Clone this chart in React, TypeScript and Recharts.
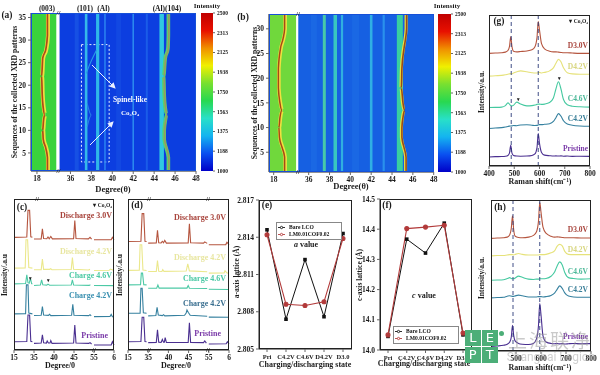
import type { ReactNode } from 'react';
import {
	Bar,
	BarChart,
	ComposedChart,
	Legend,
	Line,
	LineChart,
	ReferenceArea,
	ReferenceLine,
	XAxis,
	YAxis,
} from 'recharts';

const FONT = '"Liberation Serif", serif';

// heatmap stripes: [degree, sequence] runs (a) and (b)
type Stripe = { color: string; width: number; deg: number[]; seq: number[] };

const heatDegTicks = [18, 36, 38, 40, 42, 44, 46, 48];
const intensityTicks = [1000, 1188, 1375, 1563, 1750, 1938, 2125, 2313, 2500];
const jetStops = ['#0000c8', '#0a50f0', '#14b4f0', '#28e0c8', '#28d850', '#78e030', '#f0f000', '#f09000', '#e81000', '#c00000'];

const seqA = [1, 4, 6, 8, 10, 12, 13.5, 15, 18, 22, 26, 28, 31, 36];
const peak003A = [19.0, 19.0, 18.85, 18.6, 18.55, 18.62, 18.75, 18.6, 18.5, 18.45, 18.55, 18.85, 19.0, 19.0];
const peak104A = [45.4, 45.4, 45.2, 45.0, 45.0, 45.1, 45.25, 45.1, 45.0, 44.95, 45.1, 45.35, 45.4, 45.4];

const seqB = [1, 4, 6, 8, 10, 12, 13.5, 15, 18, 22, 26, 28, 30, 33];
const peak003B = [19.05, 19.05, 18.8, 18.55, 18.5, 18.6, 18.8, 18.6, 18.45, 18.45, 18.65, 18.9, 19.05, 19.05];
const peak104B = [45.35, 45.35, 45.15, 44.95, 44.95, 45.05, 45.2, 45.05, 44.9, 44.95, 45.15, 45.3, 45.4, 45.4];

const vertical = (deg: number, seq: number[]) => seq.map(() => deg);

const stripesA: Stripe[] = [
	{ color: '#1650e4', width: 4, deg: vertical(36.6, [1, 36]), seq: [1, 36] },
	{ color: '#1248e2', width: 5, deg: vertical(40.6, [1, 36]), seq: [1, 36] },
	{ color: '#1a5ce8', width: 2, deg: vertical(43.3, [1, 36]), seq: [1, 36] },
	{ color: '#f0e040', width: 4, deg: peak003A.map((d) => d + 0.05), seq: seqA },
	{ color: '#b04a18', width: 1.7, deg: peak003A, seq: seqA },
	{ color: '#35b8ea', width: 2.6, deg: vertical(37.5, [1, 36]), seq: [1, 36] },
	{ color: '#2fb8e8', width: 3.2, deg: vertical(38.6, [1, 36]), seq: [1, 36] },
	{ color: '#2a80f0', width: 1.6, deg: vertical(39.3, [1, 36]), seq: [1, 36] },
	{ color: '#2a88ee', width: 1.6, deg: vertical(42, [1, 36]), seq: [1, 36] },
	{ color: '#2a9ce8', width: 1.1, deg: [38.5, 37.9, 37.5], seq: [27.8, 24.9, 22.6] },
	{ color: '#2a84e8', width: 1.1, deg: [37.6, 38.0, 37.6], seq: [16, 13.4, 10.8] },
	{ color: '#30c8e0', width: 4.5, deg: vertical(44.72, [1, 36]), seq: [1, 36] },
	{ color: '#58d070', width: 3.6, deg: peak104A.map((d) => d - 0.04), seq: seqA },
	{ color: '#9a9a60', width: 1.6, deg: peak104A, seq: seqA },
];

const stripesB: Stripe[] = [
	{ color: '#1a68e4', width: 6, deg: vertical(36.5, [1, 33]), seq: [1, 33] },
	{ color: '#1a68e4', width: 7, deg: vertical(40.5, [1, 33]), seq: [1, 33] },
	{ color: '#f0e040', width: 3.6, deg: peak003B.map((d) => d + 0.05), seq: seqB },
	{ color: '#a84a14', width: 1.5, deg: peak003B, seq: seqB },
	{ color: '#48c8a8', width: 3, deg: vertical(37.5, [1, 33]), seq: [1, 33] },
	{ color: '#38c8c0', width: 3.5, deg: vertical(38.55, [1, 33]), seq: [1, 33] },
	{ color: '#30b0e0', width: 2.2, deg: vertical(39.2, [1, 33]), seq: [1, 33] },
	{ color: '#30b0e4', width: 2.6, deg: vertical(42, [1, 33]), seq: [1, 33] },
	{ color: '#2a90ec', width: 2.2, deg: vertical(43.2, [1, 33]), seq: [1, 33] },
	{ color: '#38d0a0', width: 6, deg: vertical(44.75, [1, 33]), seq: [1, 33] },
	{ color: '#e8e040', width: 3, deg: peak104B.map((d) => d - 0.05), seq: seqB },
	{ color: '#9a4a18', width: 1.6, deg: peak104B, seq: seqB },
];

// XRD traces, [two-theta, offset intensity]; null closes a segment at an axis break
type Pt = [number, number | null];

const cD30: Pt[] = [[15, 74.6], [18.2, 74.8], [18.5, 92.5], [18.9, 92.5], [19.2, 75], [19.6, 74.6], [19.7, null], [35, 73.5], [36.8, 73.6], [37.1, 80.3], [37.4, 73.8], [38.2, 73.7], [38.5, 74.8], [38.8, 73.7], [39.2, 75.2], [39.6, 73.6], [44.9, 73.7], [45.2, 85.8], [45.5, 73.8], [48.6, 73.6], [49, 74.6], [49.4, 73.4], [49.6, null], [55, 73], [59.3, 73], [59.6, 74.6], [60, 73]];
const cD42: Pt[] = [[15, 54.2], [17.8, 54.4], [18.0, 73], [18.4, 73], [18.7, 54.6], [19.6, 54.2], [19.7, null], [35, 53.1], [36.8, 53.2], [37.1, 60.2], [37.4, 53.4], [38.9, 53.4], [39.2, 53.8], [39.5, 53.1], [44.3, 53.3], [44.6, 61.3], [44.9, 53.5], [48.6, 53], [49, 53.4], [49.6, null], [55, 52.6], [58.8, 52.8], [59.1, 53.6], [60, 52.6]];
const cC46: Pt[] = [[15, 43.8], [17.9, 44], [18.2, 49.8], [18.5, 44.6], [18.8, 44.2], [19.1, 47.6], [19.4, 44], [19.6, 43.8], [19.7, null], [35, 42.7], [36.6, 43], [36.9, 46.5], [37.2, 43.2], [38.2, 43], [38.5, 43.6], [38.9, 42.9], [44.3, 43], [44.6, 46.5], [44.9, 43], [48.8, 42.8], [49.1, 43.2], [49.6, null], [55, 42.7], [60, 42.6]];
const cC42: Pt[] = [[15, 23.9], [17.9, 24], [18.1, 43.1], [18.5, 43.1], [18.7, 24.4], [19.6, 23.9], [19.7, null], [35, 22.8], [36.8, 23], [37.1, 28.8], [37.4, 23.2], [38.6, 22.9], [38.9, 23.6], [39.2, 22.8], [44.4, 23], [44.7, 30.3], [45, 23], [48.7, 22.8], [49, 23.4], [49.3, 22.6], [49.6, null], [55, 22.1], [59, 22.2], [59.3, 23.6], [59.6, 22], [60, 22]];
const cPri: Pt[] = [[15, 5.5], [18.2, 5.6], [18.5, 23.2], [18.9, 23.2], [19.2, 5.8], [19.6, 5.5], [19.7, null], [35, 4.4], [36.8, 4.6], [37.1, 10], [37.4, 4.8], [38.1, 4.6], [38.3, 6], [38.6, 4.6], [39, 4.6], [39.2, 6.2], [39.5, 4.4], [44.9, 4.6], [45.2, 16.6], [45.5, 4.6], [48.7, 4.4], [49, 4.9], [49.4, 4], [49.6, null], [55, 3.3], [59.3, 3.4], [59.6, 5.5], [60, 3.3]];

const dD30: Pt[] = [[15, 71.9], [18.2, 72], [18.5, 90.3], [18.9, 90.3], [19.2, 72], [19.6, 71.9], [19.7, null], [35, 70.8], [37.0, 70.9], [37.3, 79.2], [37.6, 71], [38.2, 70.9], [38.5, 72], [38.8, 71], [39.1, 72.6], [39.5, 70.8], [44.9, 70.9], [45.2, 83.6], [45.5, 71], [48.7, 70.8], [49, 71.6], [49.6, 70.6], [49.7, null], [55, 69.7], [59.2, 69.8], [59.5, 71.4], [60, 69.7]];
const dD42: Pt[] = [[15, 52.7], [17.8, 52.8], [18.0, 69.7], [18.4, 69.7], [18.7, 53], [19.6, 52.7], [19.7, null], [35, 52], [37.0, 52], [37.3, 59.3], [37.6, 52.2], [38.4, 52], [38.6, 53.2], [38.9, 52.1], [44.4, 52.3], [44.8, 57], [45.2, 52.4], [49.6, 51.8], [49.7, null], [55, 50.9], [58.8, 51], [59, 52.4], [59.5, 51], [60, 50.9]];
const dC46: Pt[] = [[15, 43.1], [18.1, 43.2], [18.3, 50.9], [18.6, 50.9], [18.9, 43.2], [19.6, 43.1], [19.7, null], [35, 40.9], [37.1, 41], [37.4, 43.1], [37.7, 41], [44.6, 41], [44.9, 42.7], [45.2, 40.9], [49.6, 40.7], [49.7, null], [55, 40.2], [60, 40.1]];
const dC42: Pt[] = [[15, 24.3], [18, 24.4], [18.2, 40.9], [18.5, 40.9], [18.8, 24.6], [19.6, 24.3], [19.7, null], [35, 22.6], [36.9, 22.8], [37.2, 28.3], [37.5, 23.2], [38.5, 22.8], [38.8, 23.4], [39.1, 22.6], [44, 23], [44.4, 24.5], [44.6, 26.5], [44.9, 25], [45.4, 23], [49.6, 22.4], [49.7, null], [55, 21.8], [60, 21.7]];
const dPri: Pt[] = [[15, 5.5], [18.2, 5.6], [18.5, 21.7], [18.9, 21.7], [19.2, 5.6], [19.6, 5.5], [19.7, null], [35, 4.9], [37, 5], [37.3, 13.3], [37.6, 5.2], [38.2, 5], [38.5, 7], [38.8, 5.2], [39, 5.2], [39.2, 8.2], [39.5, 5], [44.9, 5], [45.2, 18.1], [45.5, 5], [48.7, 4.9], [49, 6], [49.4, 4.6], [49.7, null], [55, 4], [59.3, 4.1], [59.6, 5.5], [60, 4]];

const xrdColors = ['#b5553f', '#ebe88c', '#4cc9a5', '#35809f', '#4a2f90'];
const xrdAxisTicks = [15, 20, 25, 30, 35, 40];
const xrdAxisLabels = ['15', '35', '40', '45', '55', '6'];

// lattice parameters, panels (e) and (f)
const latticeStates = ['Pri', 'C4.2V', 'C4.6V', 'D4.2V', 'D3.0'];
const aBare = [2.8146, 2.8074, 2.8122, 2.8076, 2.8143];
const aCoated = [2.8142, 2.8086, 2.8085, 2.8088, 2.8139];
const cBare = [14.045, 14.367, 14.321, 14.42, 14.05];
const cCoated = [14.05, 14.402, 14.407, 14.413, 14.056];
const aTicks = [2.805, 2.808, 2.811, 2.814, 2.817];
const cTicks = [14.0, 14.1, 14.2, 14.3, 14.4, 14.5];

// Raman traces
const ramanShift = [400, 425, 450, 465, 475, 481, 486, 491, 497, 510, 525, 550, 570, 582, 590, 595, 600, 608, 620, 640, 655, 665, 675, 685, 695, 710, 730, 760, 800];
const ramanTicks = [400, 500, 600, 700, 800];
const gPri = [6, 6.2, 6.3, 6.5, 7, 8.5, 13.7, 8.5, 7, 6.6, 6.5, 6.6, 7, 8, 12, 21.5, 15, 9, 7.2, 6.8, 6.6, 6.7, 6.6, 6.7, 6.5, 6.6, 6.4, 6.5, 6.4];
const gC42 = [24.8, 25.2, 25.4, 25.8, 26.2, 26.4, 26.5, 26.6, 26.8, 26.7, 27.2, 27.3, 27, 26.8, 26.9, 27.2, 27.4, 27.4, 27.6, 28, 29.5, 32, 34.7, 33, 30, 27.8, 27, 26.5, 26.3];
const gC46 = [38.7, 38.8, 39, 40, 41.8, 41, 40, 39.8, 40.2, 42.3, 41, 39.8, 40, 40.4, 40.8, 41, 41, 40.8, 41, 42, 45, 51, 55.8, 51, 44, 40.5, 39.6, 39.2, 39];
const gD42 = [59.5, 59.8, 60, 60.4, 60.8, 61, 61.2, 61, 61.6, 62.4, 63, 62.4, 61.8, 61.6, 61.6, 61.8, 62, 61.6, 62, 63, 65, 68, 70.6, 69, 65, 61.8, 61, 60.8, 60.8];
const gD30 = [74.6, 74.8, 75, 75.4, 76.5, 79, 85.6, 79, 76, 75.6, 75.8, 76.2, 77, 79, 85, 95.6, 90, 81, 77.6, 76, 75.6, 75.6, 75.4, 75.2, 75, 75, 74.8, 74.6, 74.6];
const hPri = [3, 3.3, 3.8, 4.5, 6, 9, 17, 10, 6.5, 5, 4.5, 4.3, 5, 8, 17, 31.4, 24, 10, 6, 5, 4.8, 5, 4.7, 4.9, 4.6, 4.8, 5, 4.8, 4.9];
const hC42 = [35.2, 35.4, 35.6, 36.3, 36.6, 36.4, 36.2, 36.2, 36.5, 37, 36.6, 35.8, 35.8, 35.8, 36, 36, 36, 35.8, 36, 36.8, 38.5, 41, 43.1, 41.5, 38.5, 36.4, 35.8, 35.6, 35.6];
const hC46 = [46.9, 47, 47.2, 48, 48.6, 48, 47.8, 47.8, 48.4, 49.6, 48.8, 47.6, 47.4, 47.6, 47.6, 47.8, 47.8, 47.8, 48, 49.5, 52.5, 56.5, 59, 57, 52, 48.6, 48, 47.6, 47.8];
const hD42 = [63, 63.2, 63.2, 63.6, 63.8, 63.8, 63.8, 63.6, 64, 64.6, 64, 63.6, 63.6, 63.6, 63.6, 63.8, 63.8, 63.8, 64, 65, 66.5, 69.5, 70.6, 69.6, 66, 64, 63.8, 63.8, 63.8];
const hD30 = [74.6, 74.8, 75, 75.4, 77, 81, 89.6, 80, 76, 75.2, 75, 75.4, 76.6, 79, 86, 98.5, 92, 82, 78, 76, 75.4, 75.6, 75.4, 75.2, 75, 75, 75, 74.8, 74.8];
const ramanColors = ['#b5553f', '#e6e27a', '#45c9a0', '#35809f', '#4a2f90'];

// every chart sits so that its plot area lands on the given rectangle
const Y_W = 28;
const TOP = 8;
const RIGHT = 8;
const X_H = 20;
const margin = { top: TOP, right: RIGHT, left: 0, bottom: 0 };
const tickStyle = { fontFamily: FONT, fontWeight: 700, fontSize: 7.5, fill: '#1a1a1a' };
const axisLine = { stroke: '#222', strokeWidth: 1 };

type Rect = { x: number; y: number; w: number; h: number };

function Place({ r, children }: { r: Rect; children: ReactNode }) {
	return <div style={{ position: 'absolute', left: r.x - Y_W, top: r.y - TOP }}>{children}</div>;
}

function Frame({ r, color = '#222' }: { r: Rect; color?: string }) {
	return (
		<div
			style={{
				position: 'absolute',
				left: r.x,
				top: r.y,
				width: r.w,
				height: r.h,
				boxSizing: 'border-box',
				border: `1.2px solid ${color}`,
			}}
		/>
	);
}

type NoteProps = {
	x: number;
	y: number;
	size?: number;
	color?: string;
	align?: 'left' | 'center' | 'right';
	rotate?: boolean;
	weight?: number;
	children: ReactNode;
};

function Note({ x, y, size = 7.5, color = '#1a1a1a', align = 'center', rotate, weight = 700, children }: NoteProps) {
	const shift = align === 'left' ? '0' : align === 'right' ? '-100%' : '-50%';
	return (
		<div
			style={{
				position: 'absolute',
				left: x,
				top: y,
				transform: `translate(${shift}, -50%)${rotate ? ' rotate(-90deg)' : ''}`,
				fontFamily: FONT,
				fontWeight: weight,
				fontSize: size,
				color,
				lineHeight: 1,
				whiteSpace: 'nowrap',
			}}
		>
			{children}
		</div>
	);
}

type HeatProps = {
	r: Rect;
	seqMax: number;
	seqTicks: number[];
	shift: number;
	start: number;
	gapFrom: number;
	gapTo: number;
	left: string;
	right: string;
	stripes: Stripe[];
	boxed?: boolean;
};

function Heatmap({ r, seqMax, seqTicks, shift, start, gapFrom, gapTo, left, right, stripes, boxed }: HeatProps) {
	const fold = (d: number) => (d < 30 ? d : d - shift);
	const end = 48 - shift;
	return (
		<Place r={r}>
			<ComposedChart width={r.w + Y_W + RIGHT} height={r.h + TOP + X_H} margin={margin}>
				<XAxis
					type="number"
					dataKey="x"
					domain={[start, end]}
					ticks={heatDegTicks.map(fold)}
					tickFormatter={(v: number) => String(v < 20 ? v : Math.round(v + shift))}
					tick={tickStyle}
					tickSize={3}
					height={X_H}
					interval={0}
					axisLine={axisLine}
				/>
				<YAxis
					type="number"
					dataKey="y"
					domain={[1, seqMax]}
					ticks={seqTicks}
					tick={tickStyle}
					tickSize={3}
					width={Y_W}
					interval={0}
					axisLine={axisLine}
				/>
				<ReferenceArea x1={start} x2={gapFrom} y1={1} y2={seqMax} fill={left} fillOpacity={1} stroke="none" />
				<ReferenceArea x1={gapFrom} x2={gapTo} y1={1} y2={seqMax} fill="#ffffff" fillOpacity={1} stroke="none" />
				<ReferenceArea x1={gapTo} x2={end} y1={1} y2={seqMax} fill={right} fillOpacity={1} stroke="none" />
				{stripes.map((s, i) => (
					<Line
						key={i}
						data={s.deg.map((d, j) => ({ x: fold(d), y: s.seq[j] }))}
						dataKey="y"
						stroke={s.color}
						strokeWidth={s.width}
						dot={false}
						type="monotone"
						isAnimationActive={false}
					/>
				))}
				{boxed && (
					<ReferenceArea
						x1={fold(37.05)}
						x2={fold(39.7)}
						y1={3}
						y2={29}
						fill="none"
						stroke="#e8f0ff"
						strokeWidth={1}
						strokeDasharray="2 2"
					/>
				)}
			</ComposedChart>
		</Place>
	);
}

function ColorBar({ r, id }: { r: Rect; id: string }) {
	return (
		<div style={{ position: 'absolute', left: r.x, top: r.y - TOP }}>
			<BarChart
				width={r.w + 30}
				height={r.h + TOP + 6}
				data={[{ name: 'scale', level: 2500 }]}
				margin={{ top: TOP, right: 0, left: 0, bottom: 6 }}
				barCategoryGap={0}
			>
				<defs>
					<linearGradient id={id} x1="0" y1="1" x2="0" y2="0">
						{jetStops.map((c, i) => (
							<stop key={c} offset={i / (jetStops.length - 1)} stopColor={c} />
						))}
					</linearGradient>
				</defs>
				<XAxis dataKey="name" hide />
				<YAxis
					orientation="right"
					type="number"
					domain={[1000, 2500]}
					ticks={intensityTicks}
					interval={0}
					width={30}
					tick={{ ...tickStyle, fontSize: 5.5 }}
					tickSize={2}
					axisLine={false}
				/>
				<Bar dataKey="level" fill={`url(#${id})`} isAnimationActive={false} />
			</BarChart>
		</div>
	);
}

function XrdPanel({ r, traces }: { r: Rect; traces: Pt[][] }) {
	const fold = (d: number) => (d < 30 ? d : d < 52 ? d - 15 : d - 20);
	return (
		<Place r={r}>
			<LineChart width={r.w + Y_W + RIGHT} height={r.h + TOP + X_H} margin={margin}>
				<XAxis
					type="number"
					dataKey="x"
					domain={[15, 40]}
					ticks={xrdAxisTicks}
					tickFormatter={(v: number) => xrdAxisLabels[xrdAxisTicks.indexOf(v)]}
					tick={tickStyle}
					tickSize={3}
					height={X_H}
					interval={0}
					axisLine={axisLine}
				/>
				<YAxis type="number" domain={[0, 100]} tick={false} tickLine={false} width={Y_W} axisLine={false} />
				{traces.map((t, i) => (
					<Line
						key={i}
						data={t.map(([d, v]) => ({ x: fold(d), y: v }))}
						dataKey="y"
						stroke={xrdColors[i]}
						strokeWidth={1.1}
						dot={false}
						type="linear"
						isAnimationActive={false}
					/>
				))}
			</LineChart>
		</Place>
	);
}

const BlackSquare = (p: { cx?: number; cy?: number }) => (
	<rect key={`${p.cx}`} x={(p.cx ?? 0) - 1.8} y={(p.cy ?? 0) - 1.8} width={3.6} height={3.6} fill="#111" />
);

type LatticeProps = {
	r: Rect;
	bare: number[];
	coated: number[];
	ticks: number[];
	digits: number;
	legend: { left: number; top: number; width: number };
};

function LatticePanel({ r, bare, coated, ticks, digits, legend }: LatticeProps) {
	const rows = latticeStates.map((name, i) => ({ name, bare: bare[i], coated: coated[i] }));
	return (
		<Place r={r}>
			<LineChart width={r.w + Y_W + RIGHT} height={r.h + TOP + X_H} data={rows} margin={margin}>
				<XAxis
					dataKey="name"
					scale="point"
					padding={{ left: 8, right: 9 }}
					interval={0}
					tick={{ ...tickStyle, fontSize: 6.5 }}
					tickSize={3}
					height={X_H}
					axisLine={axisLine}
				/>
				<YAxis
					type="number"
					domain={[ticks[0], ticks[ticks.length - 1]]}
					ticks={ticks}
					interval={0}
					tickFormatter={(v: number) => v.toFixed(digits)}
					tick={tickStyle}
					tickSize={3}
					width={Y_W}
					axisLine={axisLine}
				/>
				<Legend
					layout="vertical"
					align="center"
					verticalAlign="middle"
					iconSize={7}
					wrapperStyle={{
						position: 'absolute',
						left: legend.left,
						top: legend.top,
						bottom: 'auto',
						width: legend.width,
						padding: '1px 0 1px 1px',
						boxSizing: 'border-box',
						border: '0.8px solid #888',
						background: '#fff',
						fontFamily: FONT,
						fontWeight: 700,
						fontSize: 5.6,
						lineHeight: '7px',
						color: '#111',
						whiteSpace: 'nowrap',
					}}
					formatter={(value: string) => <span style={{ color: '#111' }}>{value}</span>}
				/>
				<Line
					name="Bare LCO"
					dataKey="bare"
					stroke="#111"
					strokeWidth={1}
					dot={BlackSquare}
					type="linear"
					isAnimationActive={false}
				/>
				<Line
					name="LM0.01COF0.02"
					dataKey="coated"
					stroke="#b23a3a"
					strokeWidth={1.1}
					dot={{ r: 2, fill: '#b23a3a', stroke: '#b23a3a' }}
					type="linear"
					isAnimationActive={false}
				/>
			</LineChart>
		</Place>
	);
}

function RamanPanel({ r, traces }: { r: Rect; traces: number[][] }) {
	const rows = ramanShift.map((x, i) => ({
		x,
		a: traces[0][i],
		b: traces[1][i],
		c: traces[2][i],
		d: traces[3][i],
		e: traces[4][i],
	}));
	return (
		<Place r={r}>
			<LineChart width={r.w + Y_W + RIGHT} height={r.h + TOP + X_H} data={rows} margin={margin}>
				<XAxis
					type="number"
					dataKey="x"
					domain={[400, 800]}
					ticks={ramanTicks}
					interval={0}
					tick={tickStyle}
					tickSize={3}
					height={X_H}
					axisLine={axisLine}
				/>
				<YAxis type="number" domain={[0, 100]} tick={false} tickLine={false} width={Y_W} axisLine={false} />
				{['a', 'b', 'c', 'd', 'e'].map((k, i) => (
					<Line
						key={k}
						dataKey={k}
						stroke={ramanColors[i]}
						strokeWidth={1.1}
						dot={false}
						type="monotone"
						isAnimationActive={false}
					/>
				))}
				<ReferenceLine x={488} stroke="#2a3a78" strokeWidth={0.9} strokeDasharray="4 3" />
				<ReferenceLine x={595} stroke="#2a3a78" strokeWidth={0.9} strokeDasharray="4 3" />
			</LineChart>
		</Place>
	);
}

function Logo() {
	const cell = { position: 'absolute', background: '#4cae78', color: '#fff', fontFamily: '"DejaVu Sans"', fontSize: 13, textAlign: 'center', lineHeight: '15px', width: 15.5, height: 15.5 } as const;
	return (
		<>
			<div style={{ ...cell, left: 465, top: 330 }}>L</div>
			<div style={{ ...cell, left: 482, top: 330 }}>E</div>
			<div style={{ ...cell, left: 465, top: 347 }}>P</div>
			<div style={{ ...cell, left: 482, top: 347 }}>T</div>
			<div style={{ position: 'absolute', left: 499, top: 331, width: 5, height: 5, borderRadius: 3, background: '#4cae78' }} />
			<Note x={550} y={340} size={19} weight={400} color="rgba(150,150,150,0.5)">
				<span style={{ fontFamily: '"Noto Sans CJK SC"', letterSpacing: 2 }}>上海联净</span>
			</Note>
			<Note x={551} y={357} size={12} weight={400} color="rgba(170,170,170,0.55)">
				<span style={{ fontFamily: 'Roboto' }}>Shanghai Legion</span>
			</Note>
		</>
	);
}

const rectA = { x: 31, y: 13, w: 165, h: 158 };
const rectB = { x: 269.3, y: 14, w: 164.7, h: 158 };
const rectC = { x: 14, y: 199, w: 100, h: 151 };
const rectD = { x: 128, y: 199, w: 101, h: 151 };
const rectE = { x: 259, y: 200, w: 93, h: 149 };
const rectF = { x: 380, y: 199, w: 92, h: 151 };
const rectG = { x: 489, y: 15, w: 101, h: 151 };
const rectH = { x: 491, y: 200, w: 100, h: 151 };

const arrowLines = [
	[92, 65, 115, 88],
	[90, 145, 113, 122],
];

export default function App() {
	return (
		<div
			style={{
				position: 'absolute',
				left: 0,
				top: 0,
				width: 600,
				height: 375,
				overflow: 'hidden',
				background: '#fff',
				filter: 'blur(0.4px)',
			}}
		>
			<Heatmap r={rectA} seqMax={36} seqTicks={[5, 10, 15, 20, 25, 30, 35]} shift={14.8} start={17.43} gapFrom={19.87} gapTo={20.16} left="#3ad23c" right="#0c3ee0" stripes={stripesA} boxed />
			<Frame r={rectA} color="#1650d8" />
			<ColorBar r={{ x: 201, y: 13, w: 12, h: 158 }} id="jetA" />
			<Note x={7} y={16} size={9.5}>(a)</Note>
			<Note x={47} y={9}>(003)</Note>
			<Note x={85} y={9}>(101)</Note>
			<Note x={103.5} y={9}>(Al)</Note>
			<Note x={167} y={9}>(Al)(104)</Note>
			<Note x={207} y={6} size={7}>Intensity</Note>
			<Note x={113} y={189} size={8.5}>Degree(θ)</Note>
			<Note x={15} y={92} size={7.7} rotate>Sequences of the collected XRD patterns</Note>
			<Note x={58.5} y={13} size={7}>//</Note>
			<Note x={58.5} y={171} size={7}>//</Note>
			<svg width={600} height={375} style={{ position: 'absolute', left: 0, top: 0 }}>
				<defs>
					<marker id="head" markerWidth="6" markerHeight="6" refX="5" refY="3" orient="auto">
						<path d="M0,0 L6,3 L0,6 Z" fill="#e8f0ff" />
					</marker>
				</defs>
				{arrowLines.map(([x1, y1, x2, y2]) => (
					<line key={x1} x1={x1} y1={y1} x2={x2} y2={y2} stroke="#e8f0ff" strokeWidth={1} markerEnd="url(#head)" />
				))}
			</svg>
			<Note x={130} y={100} size={7.5} color="#f4f8ff">Spinel-like</Note>
			<Note x={130} y={113} size={7} color="#f4f8ff">Co₃O₄</Note>

			<Heatmap r={rectB} seqMax={33} seqTicks={[5, 10, 15, 20, 25, 30]} shift={14.64} start={17.55} gapFrom={20.17} gapTo={20.36} left="#70d83c" right="#1660e2" stripes={stripesB} />
			<Frame r={rectB} color="#1650d8" />
			<ColorBar r={{ x: 438, y: 14, w: 13, h: 158 }} id="jetB" />
			<Note x={243} y={18} size={9.5}>(b)</Note>
			<Note x={447} y={6} size={7}>Intensity</Note>
			<Note x={351} y={186} size={8.5}>Degree(θ)</Note>
			<Note x={255} y={93} size={7.7} rotate>Sequences of the collected XRD patterns</Note>
			<Note x={298} y={14} size={7}>//</Note>
			<Note x={298} y={172} size={7}>//</Note>

			<XrdPanel r={rectC} traces={[cD30, cD42, cC46, cC42, cPri]} />
			<Frame r={rectC} />
			<Note x={22} y={208} size={9.5}>(c)</Note>
			<Note x={5} y={275} size={7.5} rotate>Intensity/.a.u</Note>
			<Note x={60} y={366} size={8}>Degree/0</Note>
			<Note x={112} y={206} size={5.5} align="right">▾ Co₃O₄</Note>
			<Note x={112} y={216} size={8} color="#a8443c" align="right">Discharge 3.0V</Note>
			<Note x={112} y={252} size={8} color="#e8e6a0" align="right">Discharge 4.2V</Note>
			<Note x={112} y={276} size={8} color="#4cc9a5" align="right">Charge 4.6V</Note>
			<Note x={112} y={296} size={8} color="#3a90b0" align="right">Charge 4.2V</Note>
			<Note x={108} y={336} size={8} color="#7a3aa8" align="right">Pristine</Note>
			<Note x={30.5} y={278} size={5}>▾</Note>
			<Note x={48} y={280} size={5}>▾</Note>
			<Note x={37} y={199} size={7}>//</Note>
			<Note x={94} y={350} size={7}>//</Note>

			<XrdPanel r={rectD} traces={[dD30, dD42, dC46, dC42, dPri]} />
			<Frame r={rectD} />
			<Note x={137} y={206} size={9.5}>(d)</Note>
			<Note x={120} y={275} size={7.5} rotate>Intensity/.a.u</Note>
			<Note x={176} y={366} size={8}>Degree/0</Note>
			<Note x={226} y={218} size={8} color="#a8443c" align="right">Discharge 3.0V</Note>
			<Note x={226} y={258} size={8} color="#e8e6a0" align="right">Discharge 4.2V</Note>
			<Note x={226} y={279} size={8} color="#4cc9a5" align="right">Charge 4.6V</Note>
			<Note x={226} y={304} size={8} color="#3a6f90" align="right">Charge 4.2V</Note>
			<Note x={221} y={334} size={8} color="#7a3aa8" align="right">Pristine</Note>
			<Note x={149} y={199} size={7}>//</Note>
			<Note x={208} y={199} size={7}>//</Note>
			<Note x={149} y={350} size={7}>//</Note>
			<Note x={208} y={350} size={7}>//</Note>

			<LatticePanel r={rectE} bare={aBare} coated={aCoated} ticks={aTicks} digits={3} legend={{ left: 45, top: 30, width: 66 }} />
			<Frame r={rectE} />
			<Note x={267} y={206} size={9.5}>(e)</Note>
			<Note x={306} y={245} size={8}><i>a</i> value</Note>
			<Note x={237} y={272} size={7.5} rotate>a-axis lattice (Å)</Note>
			<Note x={305} y={365} size={8}>Charging/discharging state</Note>

			<LatticePanel r={rectF} bare={cBare} coated={cCoated} ticks={cTicks} digits={1} legend={{ left: 41, top: 135, width: 66 }} />
			<Frame r={rectF} />
			<Note x={387} y={206} size={9.5}>(f)</Note>
			<Note x={424} y={296} size={8}><i>c</i> value</Note>
			<Note x={360} y={275} size={7.5} rotate>c-axis lattice (Å)</Note>
			<Note x={424} y={364} size={8}>Charging/discharging state</Note>

			<RamanPanel r={rectG} traces={[gD30, gD42, gC46, gC42, gPri]} />
			<Frame r={rectG} />
			<Note x={499} y={22} size={9.5}>(g)</Note>
			<Note x={588} y={22} size={5.5} align="right">▾ Co₃O₄</Note>
			<Note x={588} y={46} size={7.5} color="#a8443c" align="right">D3.0V</Note>
			<Note x={588} y={67} size={7.5} color="#d8d680" align="right">D4.2V</Note>
			<Note x={588} y={99} size={7.5} color="#4cb898" align="right">C4.6V</Note>
			<Note x={588} y={119} size={7.5} color="#3a7f98" align="right">C4.2V</Note>
			<Note x={588} y={149} size={7.5} color="#7a3aa8" align="right">Pristine</Note>
			<Note x={518.5} y={98.5} size={5}>▾</Note>
			<Note x={559} y={77.5} size={5}>▾</Note>
			<Note x={482} y={92} size={7.5} rotate>Intensity/a.u.</Note>
			<Note x={540} y={182} size={8}>Raman shift(cm⁻¹)</Note>

			<RamanPanel r={rectH} traces={[hD30, hD42, hC46, hC42, hPri]} />
			<Frame r={rectH} />
			<Note x={500} y={208} size={9.5}>(h)</Note>
			<Note x={588} y={230} size={7.5} color="#a8443c" align="right">D3.0V</Note>
			<Note x={588} y={250} size={7.5} color="#d8d680" align="right">D4.2V</Note>
			<Note x={588} y={272} size={7.5} color="#4cb898" align="right">C4.6V</Note>
			<Note x={588} y={290} size={7.5} color="#3a7f98" align="right">C4.2V</Note>
			<Note x={588} y={337} size={7.5} color="#7a3aa8" align="right">Pristine</Note>
			<Note x={482} y={278} size={7.5} rotate>Intensity/a.u.</Note>
			<Note x={540} y={368} size={8}>Raman shift(cm⁻¹)</Note>

			<Logo />
		</div>
	);
}
